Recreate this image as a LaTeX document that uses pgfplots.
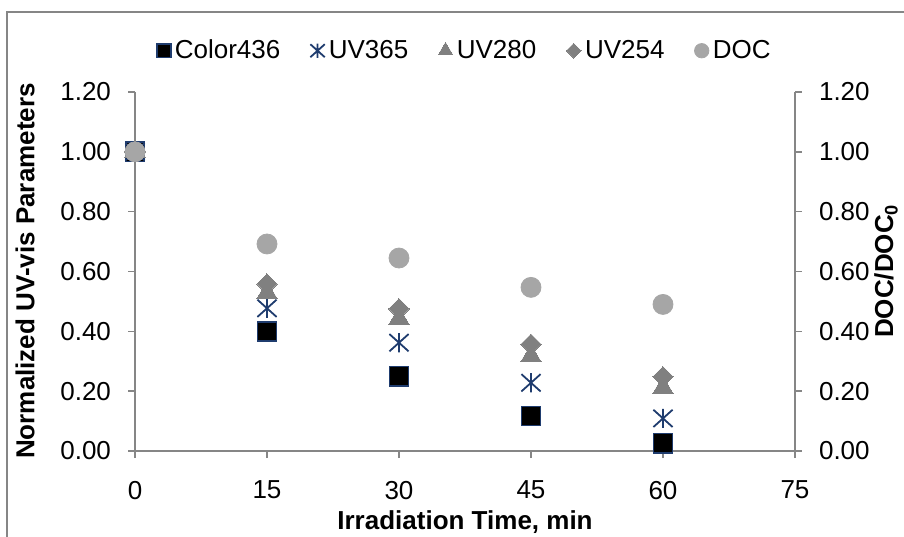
\documentclass[border=0pt]{standalone}
\usepackage{pgfplots}
\pgfplotsset{compat=1.18}
\usepackage{fontspec}
\setmainfont{Liberation Sans}

\definecolor{axisgray}{RGB}{134,134,134}
\definecolor{navy}{RGB}{31,60,110}
\definecolor{markgray}{RGB}{128,128,128}
\definecolor{docgray}{RGB}{166,166,166}

\newcommand{\chartfont}{\fontsize{13}{15.6}\selectfont}

% star-like mark: a cross with a vertical bar through it
\pgfdeclareplotmark{xbar}{%
  \pgfpathmoveto{\pgfqpoint{-\pgfplotmarksize}{-0.9\pgfplotmarksize}}%
  \pgfpathlineto{\pgfqpoint{\pgfplotmarksize}{0.9\pgfplotmarksize}}%
  \pgfpathmoveto{\pgfqpoint{-\pgfplotmarksize}{0.9\pgfplotmarksize}}%
  \pgfpathlineto{\pgfqpoint{\pgfplotmarksize}{-0.9\pgfplotmarksize}}%
  \pgfpathmoveto{\pgfqpoint{0pt}{-\pgfplotmarksize}}%
  \pgfpathlineto{\pgfqpoint{0pt}{\pgfplotmarksize}}%
  \pgfusepathqstroke}

\begin{document}
\begin{tikzpicture}
% page area and outer chart frame
\useasboundingbox (0,0) rectangle (452pt,268pt);
\draw[axisgray, line width=0.8pt] (3.5pt,-20pt) rectangle (470pt,262pt);

\pgfplotsset{
  commonaxis/.style={
    scale only axis,
    width=330pt, height=179.5pt,
    at={(67.5pt,42.5pt)}, anchor=south west,
    xmin=0, xmax=75, ymin=0, ymax=1.2,
    ytick={0,0.2,...,1.2},
    tick style={axisgray, line width=0.8pt},
    major tick length=3.5pt,
    tick align=outside,
    y tick label style={/pgf/number format/fixed, /pgf/number format/fixed zerofill, /pgf/number format/precision=2},
    /pgf/number format/assume math mode=true,
    ticklabel style={font=\chartfont},
    axis line style={axisgray, line width=0.9pt},
    clip=false,
  }
}

\begin{axis}[commonaxis,
  axis x line*=bottom,
  axis y line*=left,
  xtick={0,15,...,75},
  xticklabel style={yshift=-8pt},
  yticklabel style={xshift=-5pt},
  legend columns=5,
  legend style={draw=none, fill=none, at={(0.5015,1.115)}, anchor=center,
    font=\chartfont,
    /tikz/every even column/.append style={column sep=13pt},
    /tikz/every odd column/.append style={column sep=0pt}},
  legend cell align=left,
]
% Color436
\addplot[only marks, mark=square*, mark size=4.8pt,
  mark options={fill=black, draw=navy, line width=0.8pt},
  legend image post style={mark size=3.4pt}]
  coordinates {(0,1.00) (15,0.40) (30,0.25) (45,0.117) (60,0.026)};
\addlegendentry{Color436}
% UV365
\addplot[only marks, mark=xbar, mark size=4.8pt,
  mark options={draw=navy, line width=0.9pt},
  legend image post style={mark size=3.6pt}]
  coordinates {(0,1.00) (15,0.477) (30,0.362) (45,0.228) (60,0.109)};
\addlegendentry{UV365}
% UV280
\addplot[only marks, mark=triangle*, mark size=5.8pt,
  mark options={fill=markgray, draw=markgray, line width=0pt},
  legend image post style={mark size=4.2pt}]
  coordinates {(0,1.00) (15,0.529) (30,0.443) (45,0.318) (60,0.212)};
\addlegendentry{UV280}
% UV254
\addplot[only marks, mark=square*, mark size=3.6pt,
  mark options={fill=markgray, draw=markgray, line width=0pt, rotate=45},
  legend image post style={mark size=2.6pt}]
  coordinates {(0,1.00) (15,0.558) (30,0.475) (45,0.357) (60,0.248)};
\addlegendentry{UV254}
% DOC (right axis, same scale)
\addlegendimage{only marks, mark=*, mark size=3.6pt, mark options={fill=docgray, draw=docgray}}
\addlegendentry{DOC}
\end{axis}

\begin{axis}[commonaxis,
  axis x line=none,
  axis y line*=right,
  yticklabel style={xshift=5pt},
]
\addplot[only marks, mark=*, mark size=5pt,
  mark options={fill=docgray, draw=docgray}]
  coordinates {(0,1.00) (15,0.692) (30,0.645) (45,0.547) (60,0.49)};
\end{axis}

% axis titles
\node[font=\chartfont\bfseries, rotate=90] at (12.5pt,132.5pt) {Normalized UV-vis Parameters};
\node[font=\chartfont\bfseries, rotate=90] at (443pt,132.5pt) {DOC/DOC\textsubscript{0}};
\node[font=\chartfont\bfseries] at (232.5pt,7pt) {Irradiation Time, min};
\end{tikzpicture}
\end{document}
